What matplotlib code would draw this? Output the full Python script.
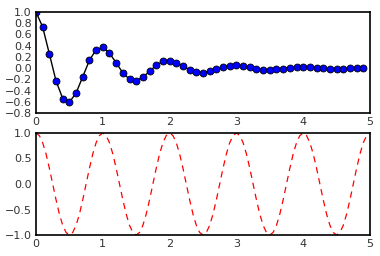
import matplotlib
matplotlib.use("Agg")
import matplotlib.pyplot as plt

# damped oscillation samples (top panel)
t_points = [0.0, 0.1, 0.2, 0.3, 0.4, 0.5, 0.6, 0.7, 0.8, 0.9,
            1.0, 1.1, 1.2, 1.3, 1.4, 1.5, 1.6, 1.7, 1.8, 1.9,
            2.0, 2.1, 2.2, 2.3, 2.4, 2.5, 2.6, 2.7, 2.8, 2.9,
            3.0, 3.1, 3.2, 3.3, 3.4, 3.5, 3.6, 3.7, 3.8, 3.9,
            4.0, 4.1, 4.2, 4.3, 4.4, 4.5, 4.6, 4.7, 4.8, 4.9]
f_points = [1.0, 0.732, 0.253, -0.229, -0.542, -0.607, -0.444, -0.153, 0.139, 0.329,
            0.368, 0.269, 0.093, -0.084, -0.200, -0.223, -0.163, -0.056, 0.051, 0.121,
            0.135, 0.099, 0.034, -0.031, -0.073, -0.082, -0.060, -0.021, 0.019, 0.045,
            0.050, 0.036, 0.013, -0.011, -0.027, -0.030, -0.022, -0.008, 0.007, 0.016,
            0.018, 0.013, 0.005, -0.004, -0.010, -0.011, -0.008, -0.003, 0.003, 0.006]

# cosine samples (bottom panel), one row per period
t_cos = [i * 0.05 for i in range(101)]
y_cos = [1.0, 0.95, 0.81, 0.59, 0.31, 0.0, -0.31, -0.59, -0.81, -0.95,
         -1.0, -0.95, -0.81, -0.59, -0.31, 0.0, 0.31, 0.59, 0.81, 0.95,
         1.0, 0.95, 0.81, 0.59, 0.31, 0.0, -0.31, -0.59, -0.81, -0.95,
         -1.0, -0.95, -0.81, -0.59, -0.31, 0.0, 0.31, 0.59, 0.81, 0.95,
         1.0, 0.95, 0.81, 0.59, 0.31, 0.0, -0.31, -0.59, -0.81, -0.95,
         -1.0, -0.95, -0.81, -0.59, -0.31, 0.0, 0.31, 0.59, 0.81, 0.95,
         1.0, 0.95, 0.81, 0.59, 0.31, 0.0, -0.31, -0.59, -0.81, -0.95,
         -1.0, -0.95, -0.81, -0.59, -0.31, 0.0, 0.31, 0.59, 0.81, 0.95,
         1.0, 0.95, 0.81, 0.59, 0.31, 0.0, -0.31, -0.59, -0.81, -0.95,
         -1.0, -0.95, -0.81, -0.59, -0.31, 0.0, 0.31, 0.59, 0.81, 0.95,
         0.99]

fig = plt.figure(figsize=(3.8, 2.56), dpi=100)
ax1 = fig.add_axes([36/380, 1 - 113/256, 334/380, 101/256])
ax2 = fig.add_axes([36/380, 1 - 235/256, 334/380, 102/256])

ax1.plot(t_points, f_points, color="black", linewidth=1.0)
ax1.plot(t_points, f_points, "o", color="blue", markeredgecolor="black",
         markeredgewidth=0.6, markersize=5)
ax1.set_xlim(0, 5)
ax1.set_ylim(-0.8, 1.0)
ax1.set_yticks([-0.8, -0.6, -0.4, -0.2, 0.0, 0.2, 0.4, 0.6, 0.8, 1.0])

ax2.plot(t_cos, y_cos, color="red", linestyle="--", linewidth=0.9, dashes=(5, 4))
ax2.set_xlim(0, 5)
ax2.set_ylim(-1.0, 1.0)
ax2.set_yticks([-1.0, -0.5, 0.0, 0.5, 1.0])

for ax in (ax1, ax2):
    ax.set_xticks([0, 1, 2, 3, 4, 5])
    ax.tick_params(length=0, labelsize=8, colors="#333333", pad=3)
    for s in ax.spines.values():
        s.set_color("black")
        s.set_linewidth(1.2)

fig.savefig("out.png", dpi=100)
